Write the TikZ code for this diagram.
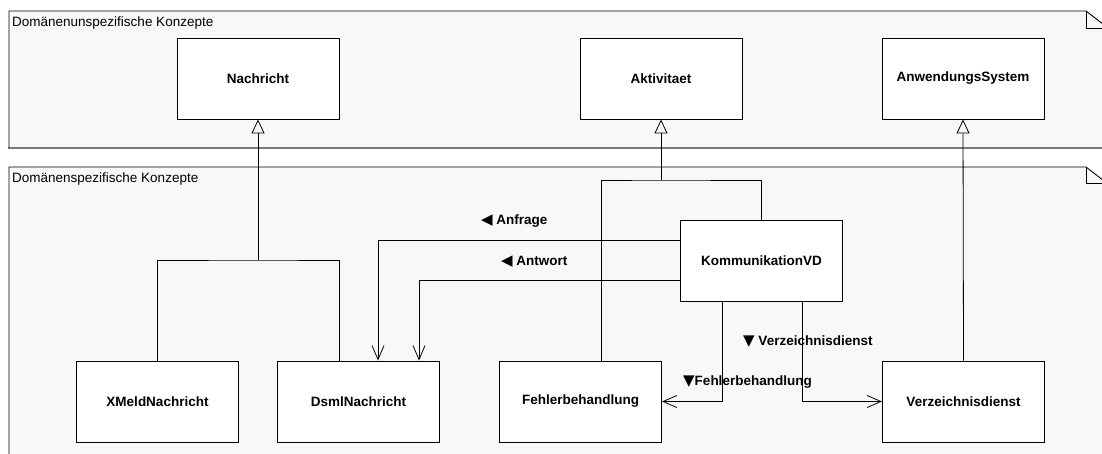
\documentclass[tikz,border=0pt]{standalone}
\usepackage{fontspec}
\setmainfont{Liberation Sans}
\newfontfamily\symfont{DejaVu Sans}
\usetikzlibrary{arrows.meta}
\definecolor{pkgfill}{RGB}{248,248,248}
\definecolor{shadowgray}{RGB}{120,120,120}
\begin{document}
\begin{tikzpicture}[x=1pt,y=-1pt,
  classbox/.style={draw=black, fill=white, line width=0.9pt, minimum width=162pt, minimum height=81pt,
    font=\fontsize{13.5}{16}\selectfont\bfseries, inner sep=0pt},
  conn/.style={draw=black, line width=0.8pt},
  gen/.style={conn, -{Triangle[open, length=14pt, width=13pt, line width=0.8pt]}},
  nav/.style={conn, -{Straight Barb[length=14pt, width=12pt, line width=0.8pt]}},
  lbl/.style={font=\fontsize{13.5}{16}\selectfont\bfseries, anchor=base west, inner sep=0pt},
  pkglbl/.style={font=\fontsize{13.5}{16}\selectfont, anchor=base west, inner sep=0pt},
  pkgline/.style={draw=black, line width=0.9pt},
  sym/.style={}
]
\useasboundingbox (0,0) rectangle (1102,453);
\begin{scope}
\clip (0,0) rectangle (1102,453);
% package 1
\fill[pkgfill] (9,11) -- (1086,11) -- (1108,28) -- (1108,148) -- (9,148) -- cycle;
\draw[shadowgray, line width=2pt] (8,148) -- (1110,148);
\draw[pkgline] (9,148) -- (9,11) -- (1086,11) -- (1108,28);
\draw[pkgline] (1086,11) -- (1086,28) -- (1110,28);
\node[pkglbl] (pkg1) at (12,26) {Domänenunspezifische Konzepte};
% package 2
\fill[pkgfill] (9,167) -- (1086,167) -- (1108,184) -- (1108,460) -- (9,460) -- cycle;
\draw[pkgline] (9,460) -- (9,167) -- (1086,167) -- (1108,184);
\draw[pkgline] (1086,167) -- (1086,183) -- (1110,183);
\node[pkglbl] (pkg2) at (12,182) {Domänenspezifische Konzepte};
\end{scope}

% classes
\node[classbox] (nachricht) at (258,78.5) {Nachricht};
\node[classbox] (aktivitaet) at (661,78.5) {Aktivitaet};
\node[classbox] (anwsys) at (963,78.5) {AnwendungsSystem};
\node[classbox] (xmeld) at (157.5,401.5) {XMeldNachricht};
\node[classbox] (dsml) at (358.5,401.5) {DsmlNachricht};
\node[classbox] (komm) at (761.5,260.5) {KommunikationVD};
\node[classbox] (fehler) at (580.5,401.5) {Fehlerbehandlung};
\node[classbox] (verz) at (963.5,401.5) {Verzeichnisdienst};

% generalisations
\coordinate (jN) at (258,260);
\draw[gen] (jN) -- (nachricht.south);
\draw[conn] (xmeld.north) |- (jN) -| ([xshift=-19.5pt]dsml.north);

\coordinate (jA) at (661,180);
\draw[gen] (jA) -- (aktivitaet.south);
\draw[conn] ([xshift=20.5pt]fehler.north) |- (jA) -| (komm.north);

\draw[gen] (verz.north) -- (anwsys.south);

% navigable associations
\draw[nav] ([yshift=20pt]komm.west) -| ([xshift=19.5pt]dsml.north);
\draw[nav] ([yshift=-20pt]komm.west) -| ([xshift=60.5pt]dsml.north);
\draw[nav] ([xshift=-39.5pt]komm.south) |- (fehler.east);
\draw[nav] ([xshift=40.5pt]komm.south) |- (verz.west);

% labels
\node[lbl] (lAnfrage) at (481,224) {{\symfont\fontsize{15}{16}\selectfont ◀} Anfrage};
\node[lbl] (lAntwort) at (501,265) {{\symfont\fontsize{15}{16}\selectfont ◀} Antwort};
\node[lbl] (lVerz) at (743,345) {{\symfont\fontsize{15}{16}\selectfont ▼} Verzeichnisdienst};
\node[lbl] (lFehler) at (683,385) {{\symfont\fontsize{15}{16}\selectfont ▼}Fehlerbehandlung};
\end{tikzpicture}
\end{document}
